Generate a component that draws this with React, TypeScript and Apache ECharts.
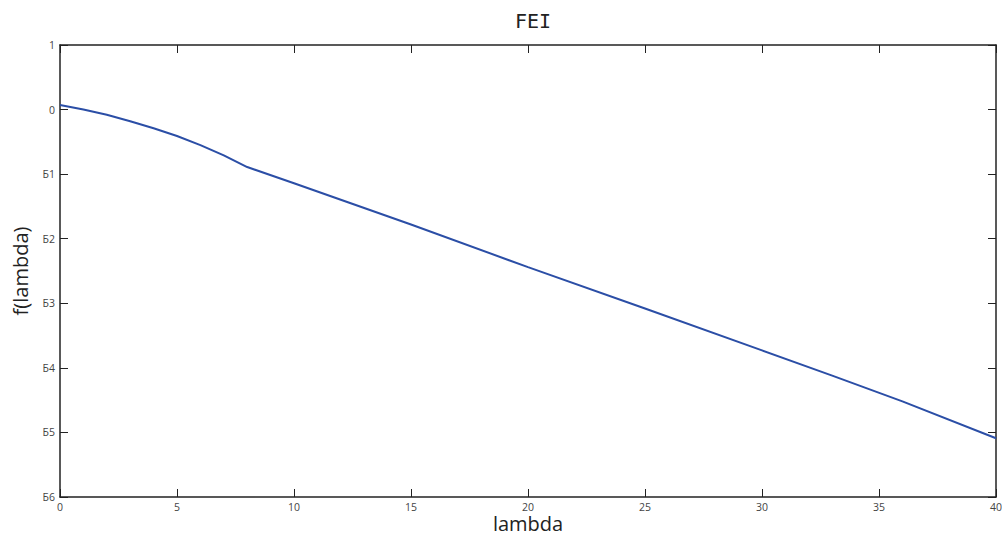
import React, { useEffect, useRef } from "react";
import * as echarts from "echarts";

const lambdaValues = [0, 1, 2, 3, 4, 5, 6, 7, 8, 10, 15, 20, 25, 30, 33, 36, 40];
const fValues = [0.07, 0.0, -0.08, -0.18, -0.29, -0.41, -0.55, -0.71, -0.89, -1.14, -1.78, -2.44, -3.08, -3.73, -4.12, -4.52, -5.09];
const yTickLabels: Record<string, string> = { "1": "1", "0": "0", "-1": "Б1", "-2": "Б2", "-3": "Б3", "-4": "Б4", "-5": "Б5", "-6": "Б6" };

export default function App() {
  const ref = useRef<HTMLDivElement>(null);
  useEffect(() => {
    document.body.style.margin = "0";
    const chart = echarts.init(ref.current!, undefined, { renderer: "svg" });
    const axisLine = { show: true, onZero: false, lineStyle: { color: "#222", width: 1.5 } };
    const axisTick = { show: true, inside: true, length: 8, lineStyle: { color: "#222", width: 1 } };
    const labelStyle = { color: "#444", fontSize: 10.5, fontFamily: "Open Sans" };
    chart.setOption({
      animation: false,
      backgroundColor: "#fff",
      title: {
        text: "FEI",
        left: 528,
        textAlign: "center",
        top: 6,
        textStyle: { fontSize: 20, fontWeight: "normal", color: "#222", fontFamily: "DejaVu Sans Mono" },
      },
      grid: { left: 60, top: 45, width: 936, height: 452, containLabel: false, outerBoundsMode: "none" },
      xAxis: [
        {
          type: "value", min: 0, max: 40, interval: 5, position: "bottom",
          axisLine, axisTick, splitLine: { show: false },
          axisLabel: { ...labelStyle, margin: 4 },
          name: "lambda", nameLocation: "middle", nameGap: 26, nameMoveOverlap: false,
          nameTextStyle: { fontSize: 20, color: "#222", fontFamily: "Open Sans", verticalAlign: "middle" },
        },
        {
          type: "value", min: 0, max: 40, interval: 5, position: "top",
          axisLine, axisTick, splitLine: { show: false }, axisLabel: { show: false },
        },
      ],
      yAxis: [
        {
          type: "value", min: -6, max: 1, interval: 1, position: "left",
          axisLine, axisTick, splitLine: { show: false },
          axisLabel: { ...labelStyle, margin: 5, formatter: (v: number) => yTickLabels[String(v)] ?? String(v) },
          name: "f(lambda)", nameLocation: "middle", nameGap: 30, nameRotate: 90,
          nameTextStyle: { fontSize: 20, color: "#222", fontFamily: "Open Sans" },
        },
        {
          type: "value", min: -6, max: 1, interval: 1, position: "right",
          axisLine, axisTick, splitLine: { show: false }, axisLabel: { show: false },
        },
      ],
      series: [
        {
          type: "line",
          data: lambdaValues.map((x, i) => [x, fValues[i]]),
          showSymbol: false,
          smooth: false,
          lineStyle: { color: "#2b4ea6", width: 2 },
          xAxisIndex: 0,
          yAxisIndex: 0,
        },
      ],
    });
    return () => chart.dispose();
  }, []);
  return <div ref={ref} style={{ width: 1002, height: 537 }} />;
}
